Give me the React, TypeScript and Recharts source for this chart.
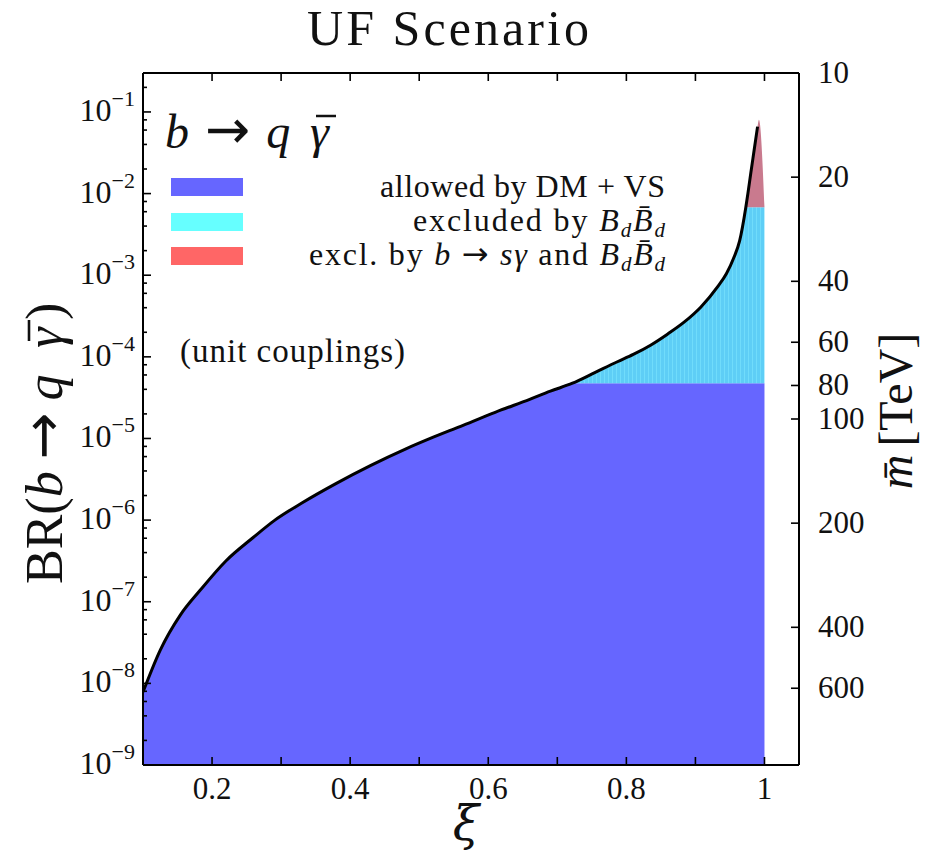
import React from "react";
import { ComposedChart, Area, Line, XAxis, YAxis } from "recharts";

// black curve: BR(b -> q gamma-bar) against xi
const xiValues = [
  0.1, 0.125, 0.154, 0.183, 0.22, 0.26, 0.291, 0.33, 0.38, 0.43, 0.48, 0.516, 0.56, 0.61, 0.66, 0.69,
  0.722, 0.755, 0.787, 0.81, 0.835, 0.86, 0.884, 0.908, 0.932, 0.945, 0.956, 0.964, 0.973, 0.976, 0.98,
  0.985, 0.99,
];
const brValues = [
  7.83e-9, 2.56e-8, 6.87e-8, 1.39e-7, 3.16e-7, 6.17e-7, 1.0e-6, 1.62e-6, 2.82e-6, 4.68e-6, 7.41e-6, 1.0e-5,
  1.41e-5, 2.09e-5, 3.02e-5, 3.8e-5, 4.75e-5, 6.46e-5, 8.71e-5, 1.07e-4, 1.39e-4, 1.91e-4, 2.68e-4,
  4.09e-4, 7.19e-4, 1.05e-3, 1.67e-3, 2.63e-3, 6.8e-3, 1.0e-2, 1.74e-2, 3.39e-2, 6.61e-2,
];

// the red region runs a little past the end of the black curve
const tipXi = [0.992, 1.0];
const tipBr = [0.08, 6.8e-3];

const brFloor = 1e-9;
const allowedMax = 4.75e-5; // top of the blue band
const bdLimit = 6.8e-3; // top of the cyan band

const xiTicks = [0.2, 0.3, 0.4, 0.5, 0.6, 0.7, 0.8, 0.9, 1.0];
const xiLabelled = [0.2, 0.4, 0.6, 0.8, 1.0];
const brExponents = [-9, -8, -7, -6, -5, -4, -3, -2, -1];
const brMinorSteps = [2, 4, 6, 8];
const massTicks = [10, 20, 40, 60, 80, 100, 200, 400, 600];

const rows = [
  ...xiValues.map((xi, i) => ({ xi, br: brValues[i], tip: false })),
  ...tipXi.map((xi, i) => ({ xi, br: tipBr[i], tip: true })),
];

const data = rows.map((r) => ({
  xi: r.xi,
  curve: r.tip ? null : r.br,
  blue: [brFloor, Math.min(r.br, allowedMax)],
  cyan: r.br >= allowedMax ? [allowedMax, Math.min(r.br, bdLimit)] : null,
  red: r.br >= bdLimit ? [bdLimit, r.br] : null,
}));

const brTicks: number[] = [];
brExponents.forEach((e) => {
  brTicks.push(Math.pow(10, e));
  brMinorSteps.forEach((m) => {
    const v = m * Math.pow(10, e);
    if (v < 0.3) brTicks.push(v);
  });
});

const serif = "'Liberation Serif', serif";
const arrowFont = "'DejaVu Sans', sans-serif";
const tickFont = 31;

const BottomTick = (props: any) => {
  const { x, y, payload } = props;
  const v = payload.value;
  const lab = xiLabelled.some((t) => Math.abs(t - v) < 1e-6);
  return (
    <g>
      <line x1={x} x2={x} y1={y} y2={y - 8} stroke="#000" strokeWidth={1.6} />
      {lab && (
        <text x={x} y={y + 34} textAnchor="middle" fontFamily={serif} fontSize={tickFont} fill="#111">
          {Math.abs(v - 1) < 1e-6 ? "1" : v.toFixed(1)}
        </text>
      )}
    </g>
  );
};

const TopTick = (props: any) => {
  const { x, y } = props;
  return <line x1={x} x2={x} y1={y} y2={y + 8} stroke="#000" strokeWidth={1.6} />;
};

const LeftTick = (props: any) => {
  const { x, y, payload } = props;
  const v = payload.value;
  const e = Math.round(Math.log10(v));
  const major = Math.abs(v / Math.pow(10, e) - 1) < 1e-6;
  return (
    <g>
      <line x1={x} x2={x + (major ? 8 : 4)} y1={y} y2={y} stroke="#000" strokeWidth={1.6} />
      {major && (
        <text x={x - 8} y={y + 9} textAnchor="end" fontFamily={serif} fontSize={32} fill="#111">
          10
          <tspan dy={-15} fontSize={22}>
            {"\u2212" + String(-e)}
          </tspan>
        </text>
      )}
    </g>
  );
};

const RightTick = (props: any) => {
  const { x, y, payload } = props;
  return (
    <g>
      <line x1={x} x2={x - 8} y1={y} y2={y} stroke="#000" strokeWidth={1.6} />
      <text x={x + 19} y={y + 10} textAnchor="start" fontFamily={serif} fontSize={tickFont} fill="#111">
        {payload.value}
      </text>
    </g>
  );
};

const axisStroke = { stroke: "#000", strokeWidth: 2 };

const Bd = () => (
  <>
    <tspan fontStyle="italic">B</tspan>
    <tspan fontStyle="italic" fontSize={21} dy={6}>
      d
    </tspan>
    <tspan fontStyle="italic" dy={-6}>
      B̄
    </tspan>
    <tspan fontStyle="italic" fontSize={21} dy={6}>
      d
    </tspan>
  </>
);

export default function App() {
  return (
    <div style={{ position: "absolute", left: 0, top: 0, width: 925, height: 850, background: "#fff" }}>
      <svg width={0} height={0} style={{ position: "absolute" }}>
        <defs>
          <pattern id="cyanStripes" width={4} height={10} patternUnits="userSpaceOnUse">
            <rect x={0} y={0} width={4} height={10} fill="#5ecef6" />
            <rect x={0} y={0} width={1} height={10} fill="#70dcfb" />
          </pattern>
        </defs>
      </svg>
      <ComposedChart width={925} height={850} data={data} margin={{ top: 0, right: 0, bottom: 0, left: 0 }}>
        <XAxis
          dataKey="xi"
          type="number"
          domain={[0.1, 1.05]}
          allowDataOverflow
          ticks={xiTicks}
          interval={0}
          height={85}
          tickSize={0}
          tickMargin={0}
          tickLine={false}
          axisLine={axisStroke}
          tick={<BottomTick />}
        />
        <XAxis
          xAxisId="top"
          dataKey="xi"
          type="number"
          orientation="top"
          domain={[0.1, 1.05]}
          allowDataOverflow
          ticks={xiTicks}
          interval={0}
          height={73}
          tickSize={0}
          tickMargin={0}
          tickLine={false}
          axisLine={axisStroke}
          tick={<TopTick />}
        />
        <YAxis
          yAxisId="br"
          scale="log"
          domain={[1e-9, 0.3]}
          allowDataOverflow
          ticks={brTicks}
          interval={0}
          width={143}
          tickSize={0}
          tickMargin={0}
          tickLine={false}
          axisLine={axisStroke}
          tick={<LeftTick />}
        />
        <YAxis
          yAxisId="mass"
          orientation="right"
          scale="log"
          domain={[10, 1000]}
          reversed
          allowDataOverflow
          ticks={massTicks}
          interval={0}
          width={126}
          tickSize={0}
          tickMargin={0}
          tickLine={false}
          axisLine={axisStroke}
          tick={<RightTick />}
        />
        <Area yAxisId="br" type="monotone" dataKey="blue" fill="#6666ff" fillOpacity={1} stroke="none" isAnimationActive={false} />
        <Area yAxisId="br" type="monotone" dataKey="cyan" fill="url(#cyanStripes)" fillOpacity={1} stroke="none" isAnimationActive={false} />
        <Area yAxisId="br" type="monotone" dataKey="red" fill="#c97a8e" fillOpacity={1} stroke="none" isAnimationActive={false} />
        <Line yAxisId="br" type="monotone" dataKey="curve" stroke="#000" strokeWidth={3} dot={false} isAnimationActive={false} />
      </ComposedChart>

      <svg width={925} height={850} style={{ position: "absolute", left: 0, top: 0, pointerEvents: "none" }} fontFamily={serif} fill="#111">
        <text x={448} y={45} textAnchor="middle" fontSize={50} textLength={282} lengthAdjust="spacing">
          UF Scenario
        </text>
        <text x={466} y={840} textAnchor="middle" fontSize={48} fontStyle="italic" fontFamily="'DejaVu Serif', serif">
          ξ
        </text>

        {/* rotated y label: BR(b -> q gamma-bar) */}
        <g transform="translate(62,584) rotate(-90)" fontSize={52}>
          <text x={0} y={0}>
            BR(<tspan fontStyle="italic">b</tspan>
            <tspan dx={12} fontFamily={arrowFont} fontSize={56}>
              →
            </tspan>
            <tspan dx={12} fontStyle="italic">
              q
            </tspan>
          </text>
          <text x={236} y={0} fontStyle="italic">
            γ
          </text>
          <line x1={243} x2={264} y1={-33} y2={-33} stroke="#111" strokeWidth={2.6} />
          <text x={264} y={0}>
            )
          </text>
        </g>

        <text transform="translate(912,411) rotate(-90)" textAnchor="middle" fontSize={48}>
          <tspan fontStyle="italic">m̄</tspan>
          <tspan dx={8}>[TeV]</tspan>
        </text>

        {/* legend title */}
        <text x={165} y={148} fontSize={48}>
          <tspan fontStyle="italic">b</tspan>
          <tspan dx={16} fontFamily={arrowFont} fontSize={54}>
            →
          </tspan>
          <tspan dx={16} fontStyle="italic">
            q
          </tspan>
        </text>
        <text x={310} y={148} fontSize={48} fontStyle="italic">
          γ
        </text>
        <line x1={316} x2={336} y1={116} y2={116} stroke="#111" strokeWidth={2.5} />

        <rect x={171} y={178} width={72} height={18} fill="#6666ff" />
        <rect x={171} y={213} width={72} height={18} fill="#66ffff" />
        <rect x={171} y={247} width={72} height={18} fill="#ff6666" />

        <text x={665} y={197} textAnchor="end" fontSize={32} textLength={285} lengthAdjust="spacing">
          allowed by DM + VS
        </text>
        <text x={665} y={231} textAnchor="end" fontSize={32} textLength={252} lengthAdjust="spacing">
          excluded by <Bd />
        </text>
        <text x={665} y={265} textAnchor="end" fontSize={32} textLength={356} lengthAdjust="spacing">
          excl. by <tspan fontStyle="italic">b</tspan> <tspan fontFamily={arrowFont} fontSize={32}>→</tspan>{" "}
          <tspan fontStyle="italic">sγ</tspan> and <Bd />
        </text>

        <text x={180} y={362} fontSize={33} textLength={225} lengthAdjust="spacing">
          (unit couplings)
        </text>
      </svg>
    </div>
  );
}
